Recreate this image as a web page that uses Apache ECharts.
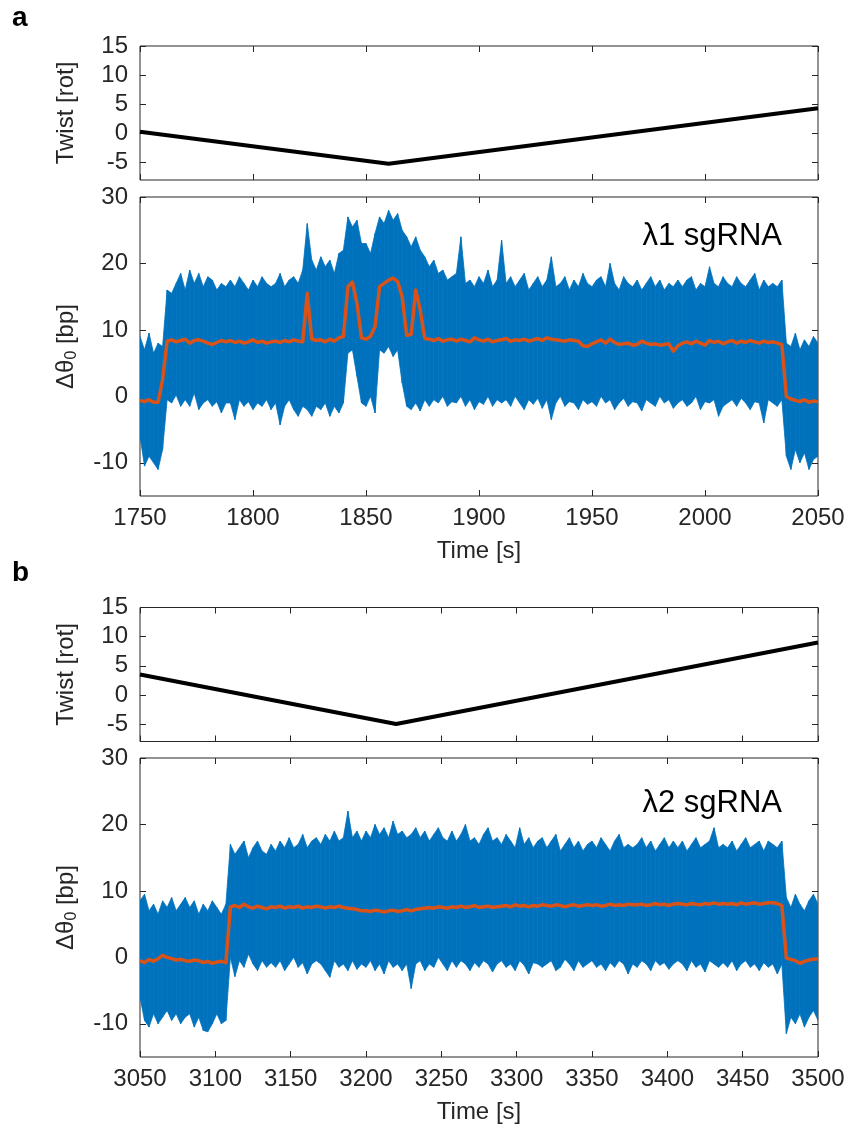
<!DOCTYPE html>
<html>
<head>
<meta charset="utf-8">
<script src="https://cdn.jsdelivr.net/npm/echarts@6/dist/echarts.min.js"></script>
<style>
  html, body { margin: 0; padding: 0; background: #fff; }
  #chart { width: 852px; height: 1132px; }
</style>
</head>
<body>
<div id="chart"></div>
<script>
// panel a : samples every 2 s from 1750 s
const startA = 1750, stepA = 2;
const upperA = [
  9.0, 7.0, 9.5, 6.5, 8.0, 7.5, 16.0, 15.5, 17.0, 18.5,
  16.0, 19.0, 17.0, 18.5, 16.5, 18.0, 17.5, 16.0, 17.0, 16.5,
  17.5, 16.5, 18.0, 17.0, 16.0, 17.5, 16.5, 18.0, 17.0, 16.5,
  17.0, 18.5, 16.5, 17.5, 18.0, 17.0, 19.0, 26.0, 20.5, 19.0,
  21.0, 19.5, 20.5, 18.5, 21.5, 22.0, 27.0, 25.5, 26.5, 23.0,
  23.0, 21.5, 24.5, 27.0, 26.0, 28.0, 26.5, 27.5, 25.0, 24.0,
  22.5, 24.0, 22.0, 21.0, 19.5, 20.5, 18.5, 19.0, 17.5, 18.0,
  18.5, 24.0, 17.0, 17.5, 16.5, 18.0, 17.0, 19.0, 16.5, 17.5,
  23.5, 17.0, 18.0, 16.5, 17.5, 18.5, 16.0, 17.0, 18.0, 16.5,
  17.5, 21.0, 16.5, 17.0, 18.0, 16.0, 17.5, 16.5, 18.5, 17.0,
  16.5, 17.5, 18.0, 16.5, 20.0, 17.0, 16.0, 18.0, 17.0, 16.5,
  17.5, 16.0, 17.0, 18.0, 16.5, 17.5, 16.0, 17.0, 16.5, 17.5,
  16.5, 17.5, 18.0, 16.0, 17.0, 16.5, 19.5, 17.0, 16.5, 18.0,
  17.0, 16.5, 18.0, 17.0, 16.5, 17.5, 18.5, 16.0, 17.5, 16.5,
  17.0, 16.5, 17.5, 8.0, 7.5, 9.5, 7.0, 8.5, 7.5, 9.0,
  8.0
];
const lowerA = [
  -6.0, -10.5, -9.0, -10.0, -11.0, -8.0, -0.5, -1.0, 0.2, -1.5,
  -0.5, -1.5, 0.5, -2.0, -1.0, -0.5, -1.5, -0.8, -2.5, -1.0,
  -1.0, -3.5, -0.5, -1.5, -0.8, -2.0, -1.0, -1.5, -0.5, -2.0,
  -1.0, -4.3, -1.5, -0.5, -2.0, -3.0, -1.5, -2.0, -3.0, -1.5,
  -2.0, -1.0, -3.0, -1.5, -2.5, -1.0, 6.5, 7.0, 3.0, -1.0,
  -1.5, 0.0, -2.5, 7.0, 6.5, 7.5, 6.0, 7.0, 2.0, -1.5,
  -2.0, -1.0, -2.2, -0.5, -1.5, -0.5, -1.0, 0.0, -1.5, -0.8,
  -1.0, 0.0, -1.5, -0.5, -2.0, -0.8, -1.2, 0.0, -1.5, -0.5,
  -1.0, -0.5, -1.5, 0.0, -1.0, -2.0, -0.5, -1.2, -0.3, -1.8,
  -0.5, -3.5, -1.0, 0.0, -1.5, -0.8, -1.0, -2.0, -0.5, -1.2,
  -0.8, -1.5, 0.0, -1.0, -0.5, -2.0, -1.0, -0.3, -1.5, -0.8,
  -1.0, -2.2, -0.5, -1.0, -1.5, 0.0, -1.0, -0.5, -1.8, -1.0,
  -0.5, -1.5, -1.0, 0.0, -2.0, -0.8, -1.0, -0.5, -3.0, -1.5,
  -1.0, -0.5, -1.5, -0.3, -1.0, -2.0, -0.8, -1.0, -4.0, -0.5,
  -1.0, -1.5, -0.5, -9.0, -11.0, -8.0, -10.0, -8.5, -11.0, -9.5,
  -9.0
];
const smoothA = [
  -0.6, -0.8, -0.5, -0.9, -0.9, 2.5, 8.3, 8.5, 8.2, 8.4,
  8.6, 8.0, 8.4, 8.5, 8.3, 8.0, 7.8, 8.1, 8.4, 8.2,
  8.4, 8.1, 8.3, 8.0, 8.2, 8.5, 8.1, 8.3, 8.0, 8.2,
  8.3, 8.1, 8.4, 8.2, 8.5, 8.3, 8.2, 15.5, 8.6, 8.4,
  8.5, 8.2, 8.6, 8.3, 8.8, 9.0, 16.5, 17.2, 14.0, 8.8,
  8.6, 9.0, 10.5, 16.5, 17.0, 17.5, 17.8, 17.3, 15.0, 9.2,
  9.3, 16.0, 13.0, 8.7, 8.6, 8.4, 8.7, 8.3, 8.5, 8.6,
  8.3, 8.6, 8.4, 8.2, 8.8, 8.5, 8.3, 8.6, 8.2, 8.4,
  8.5, 8.7, 8.3, 8.5, 8.4, 8.6, 8.3, 8.5, 8.7, 8.4,
  8.8, 8.6, 8.5, 8.4, 8.3, 8.5, 8.4, 8.3, 7.6, 7.5,
  7.9, 8.2, 8.5, 8.0, 8.6, 8.1, 7.8, 7.9, 8.0, 7.7,
  7.8, 8.3, 8.0, 7.8, 7.9, 7.7, 7.8, 7.9, 6.8, 7.6,
  8.0, 8.2, 7.9, 8.3, 8.0, 7.7, 8.4, 8.1, 8.3, 7.9,
  8.2, 8.4, 8.0, 8.3, 8.1, 8.4, 8.2, 8.0, 8.3, 8.1,
  8.2, 8.0, 7.8, 0.0, -0.4, -0.6, -0.8, -0.5, -0.9, -0.7,
  -0.8
];
const twistTimeA = [1750, 1860, 2050];
const twistA = [0.3, -5.2, 4.3];

// panel b : samples every 3 s from 3050 s
const startB = 3050, stepB = 3;
const upperB = [
  8.5, 9.5, 7.0, 8.0, 6.5, 8.5, 7.5, 9.0, 7.0, 8.0,
  9.0, 7.5, 8.5, 6.5, 8.0, 7.0, 8.5, 7.5, 6.5, 8.0,
  17.0, 15.5, 16.5, 17.5, 15.0, 16.5, 17.5, 16.0, 15.5, 17.0,
  16.0, 17.5, 16.5, 18.0, 16.5, 17.0, 18.5, 16.5, 17.5, 18.0,
  17.0, 18.5, 17.5, 19.0, 17.5, 18.0, 22.0, 18.0, 19.0, 17.5,
  19.0, 18.0, 20.0, 18.5, 19.5, 18.0, 20.5, 18.5, 19.0, 18.0,
  18.5, 19.5, 18.0, 19.0, 17.5, 18.5, 19.5, 18.0, 17.5, 19.0,
  17.5, 18.5, 20.0, 17.5, 18.0, 17.0, 18.5, 19.5, 17.5, 18.0,
  17.0, 18.5, 17.5, 16.5, 19.5, 17.0, 18.0, 16.5, 17.5, 18.0,
  16.5, 17.5, 18.5, 16.0, 17.0, 18.0, 16.5, 17.5, 16.0, 17.0,
  17.5, 16.5, 18.0, 17.0, 16.0, 17.5, 18.5, 16.5, 17.0, 16.5,
  17.0, 18.0, 16.5, 17.5, 16.0, 17.0, 18.0, 16.5, 17.5, 16.5,
  17.5, 16.0, 17.0, 18.0, 16.5, 17.0, 17.5, 19.5, 16.5, 17.0,
  16.5, 17.5, 16.0, 17.0, 18.0, 16.5, 17.0, 17.5, 16.0, 17.5,
  17.0, 16.5, 17.5,
  9.0, 7.5, 9.5, 8.0, 7.0, 8.5, 9.5, 8.0
];
const lowerB = [
  -6.0, -9.5, -10.5, -8.5, -10.0, -9.0, -8.0, -9.5, -8.5, -10.0,
  -9.0, -8.5, -10.5, -9.0, -11.0, -11.2, -10.0, -8.5, -10.0, -9.5,
  0.0, -2.9, -0.5, -1.5, 0.5, -1.0, -2.0, -0.5, -1.5, -0.8,
  -1.5, -0.5, -2.0, -1.0, 0.0, -1.5, -0.8, -2.5, -1.0, -0.5,
  -1.0, -2.0, -3.0, -0.5, -1.5, -1.0, -2.0, -0.5, -1.8, -1.0,
  -1.5, -0.5, -2.0, -1.0, -2.5, -0.5, -1.5, -1.0, -2.0, -1.0,
  -4.7, -1.0, -0.5, -2.0, -1.0, -1.5, 0.0, -1.0, -2.0, -0.5,
  -1.5, -0.5, -1.0, -2.0, -0.8, -1.5, -0.5, -1.0, -2.2, -1.0,
  -0.5, -1.5, -1.0, -2.0, -0.5, -1.2, -2.5, -0.8, -1.0, -1.5,
  -1.0, -0.5, -2.0, -1.5, -0.3, -1.0, -2.0, -0.5, -1.5, -1.0,
  -0.5, -1.5, -1.0, -2.0, -0.8, -1.5, -0.5, -1.0, -2.5, -1.0,
  -1.5, -0.5, -1.0, -2.0, -0.5, -1.2, -0.8, -1.8, -1.0, -0.5,
  -1.0, -2.0, -0.5, -1.5, -1.0, -2.2, -0.5, -1.0, -1.5, -0.8,
  -1.5, -0.5, -2.0, -1.0, -0.5, -1.5, -1.0, -2.0, -0.8, -1.5,
  -1.0, -2.5, -1.0,
  -11.5, -9.0, -10.0, -8.5, -10.5, -9.0, -8.0, -9.5
];
const smoothB = [
  -0.5, -0.8, -0.3, -0.6, -0.2, 0.3, 0.0, -0.2, -0.4, -0.3,
  -0.5, -0.6, -0.4, -0.5, -0.8, -0.6, -0.9, -0.7, -0.6, -0.8,
  7.6, 7.8, 7.5, 8.0, 7.6, 7.4, 7.7, 7.5, 7.3, 7.6,
  7.5, 7.7, 7.4, 7.6, 7.5, 7.7, 7.4, 7.6, 7.5, 7.7,
  7.6, 7.4, 7.6, 7.5, 7.7, 7.5, 7.4, 7.3, 7.2, 7.0,
  7.0, 6.9, 7.1, 7.0, 6.8, 7.0, 7.1, 6.9, 7.0, 7.2,
  7.0, 7.2, 7.3, 7.4, 7.5, 7.4, 7.6, 7.5, 7.4, 7.6,
  7.5, 7.7, 7.5, 7.6, 7.8, 7.5, 7.6, 7.7, 7.5, 7.6,
  7.7, 7.8, 7.6, 7.9, 7.7, 7.8, 7.6, 7.8, 7.7, 7.9,
  7.8, 7.7, 7.9, 7.8, 7.6, 7.8, 7.9, 7.7, 7.8, 7.9,
  7.8, 7.9, 7.7, 7.8, 8.0, 7.8, 7.9, 7.8, 8.0, 7.9,
  7.9, 8.0, 7.8, 7.9, 8.1, 7.9, 8.0, 7.8, 8.0, 8.1,
  8.0, 7.9, 8.1, 8.0, 7.9, 8.1, 8.0, 8.2, 8.0, 8.1,
  8.0, 8.1, 7.9, 8.2, 8.0, 8.1, 8.2, 8.0, 8.1, 8.2,
  8.2, 8.1, 7.8,
  -0.1, -0.3, -0.5, -0.9, -0.6, -0.4, -0.3, -0.2
];
const twistTimeB = [3050, 3220, 3500];
const twistB = [3.5, -5.0, 9.0];

const twistTicks = [-5, 0, 5, 10, 15];
const thetaTicks = [-10, 0, 10, 20, 30];
const rangeA = [1750, 2050];
const rangeB = [3050, 3500];

const BLUE = '#0072BD';
const ORANGE = '#D95319';
const AX = '#262626';
const FONT = 'Liberation Sans, Arial, Helvetica, sans-serif';

function sampled(start, step, vals) {
  return vals.map((v, i) => [start + i * step, v]);
}
// one item per pair of neighbouring samples: [t0, lo0, hi0, t1, lo1, hi1]
function bandItems(start, step, lo, hi) {
  const out = [];
  for (let i = 0; i < hi.length - 1; i++) {
    out.push([start + i * step, lo[i], hi[i], start + (i + 1) * step, lo[i + 1], hi[i + 1]]);
  }
  return out;
}
function pairs(ts, vs) {
  return ts.map((t, i) => [t, vs[i]]);
}

const grids = [
  { left: 140, right: 34, top: 46, height: 134 },
  { left: 140, right: 34, top: 197, height: 299 },
  { left: 140, right: 34, top: 607.5, height: 134 },
  { left: 140, right: 34, top: 758, height: 299 }
].map(g => Object.assign(g, { show: true, borderColor: AX, borderWidth: 1, backgroundColor: 'transparent' }));

const xRanges = [rangeA, rangeA, rangeB, rangeB];
const xAxis = [];
const yAxis = [];
grids.forEach((g, i) => {
  const withLabel = i % 2 === 1;
  const tick = { show: true, inside: true, length: 6, lineStyle: { color: AX, width: 1 } };
  const noLine = { show: false, onZero: false };
  xAxis.push({
    type: 'value', gridIndex: i, position: 'bottom',
    min: xRanges[i][0], max: xRanges[i][1], interval: 50,
    axisLine: noLine, axisTick: tick, splitLine: { show: false },
    axisLabel: { show: withLabel, color: AX, fontSize: 24, fontFamily: FONT, margin: 10, formatter: v => String(v) },
    name: withLabel ? 'Time [s]' : '', nameLocation: 'middle', nameGap: 43,
    nameTextStyle: { color: AX, fontSize: 24, fontFamily: FONT }
  });
  xAxis.push({
    type: 'value', gridIndex: i, position: 'top',
    min: xRanges[i][0], max: xRanges[i][1], interval: 50,
    axisLine: noLine, axisTick: tick, splitLine: { show: false },
    axisLabel: { show: false }
  });
  const isTwist = i % 2 === 0;
  const ticks = isTwist ? twistTicks : thetaTicks;
  const yMin = isTwist ? -8 : -15;
  const yMax = isTwist ? 15 : 30;
  yAxis.push({
    type: 'value', gridIndex: i, position: 'left', min: yMin, max: yMax,
    axisLine: noLine,
    axisTick: Object.assign({ customValues: ticks }, tick),
    axisLabel: { customValues: ticks, color: AX, fontSize: 24, fontFamily: FONT, margin: 12 },
    splitLine: { show: false },
    name: isTwist ? 'Twist [rot]' : '{t|Δθ}{s|0}{t| [bp]}',
    nameLocation: 'middle', nameGap: isTwist ? 62 : 60, nameRotate: 90,
    nameTextStyle: {
      color: AX, fontSize: 24, fontFamily: FONT,
      rich: {
        t: { color: AX, fontSize: 24, fontFamily: FONT },
        s: { color: AX, fontSize: 16, fontFamily: FONT, verticalAlign: 'bottom', padding: [12, 0, 0, 0] }
      }
    }
  });
  yAxis.push({
    type: 'value', gridIndex: i, position: 'right', min: yMin, max: yMax,
    axisLine: noLine,
    axisTick: Object.assign({ customValues: ticks }, tick),
    axisLabel: { show: false }, splitLine: { show: false }
  });
});

function bandSeries(axisIdx, start, step, lo, hi) {
  return {
    type: 'custom', xAxisIndex: axisIdx, yAxisIndex: axisIdx,
    data: bandItems(start, step, lo, hi),
    encode: { x: [0, 3], y: [1, 2, 4, 5] },
    clip: true, z: 2, silent: true,
    renderItem: function (params, api) {
      const a = api.coord([api.value(0), api.value(1)]);
      const b = api.coord([api.value(0), api.value(2)]);
      const c = api.coord([api.value(3), api.value(5)]);
      const d = api.coord([api.value(3), api.value(4)]);
      return {
        type: 'polygon',
        shape: { points: [a, b, c, d] },
        style: { fill: BLUE, stroke: BLUE, lineWidth: 0.8 }
      };
    }
  };
}
function smoothSeries(axisIdx, start, step, vals) {
  return {
    type: 'line', xAxisIndex: axisIdx, yAxisIndex: axisIdx,
    data: sampled(start, step, vals), showSymbol: false, symbol: 'none',
    lineStyle: { color: ORANGE, width: 3.5, join: 'round' }, z: 5
  };
}
function twistSeries(axisIdx, ts, vs) {
  return {
    type: 'line', xAxisIndex: axisIdx, yAxisIndex: axisIdx,
    data: pairs(ts, vs), showSymbol: false, symbol: 'none',
    lineStyle: { color: '#000', width: 4 }, z: 5
  };
}

const option = {
  animation: false,
  backgroundColor: '#fff',
  grid: grids,
  xAxis: xAxis,
  yAxis: yAxis,
  graphic: [
    { type: 'text', left: 12, top: 4, style: { text: 'a', font: 'bold 28px ' + FONT, fill: '#000' } },
    { type: 'text', left: 12, top: 559, style: { text: 'b', font: 'bold 28px ' + FONT, fill: '#000' } },
    { type: 'text', right: 70, top: 221, style: { text: 'λ1 sgRNA', font: '31px ' + FONT, fill: '#000' }, z: 10 },
    { type: 'text', right: 70, top: 788, style: { text: 'λ2 sgRNA', font: '31px ' + FONT, fill: '#000' }, z: 10 }
  ],
  series: [
    twistSeries(0, twistTimeA, twistA),
    bandSeries(2, startA, stepA, lowerA, upperA),
    smoothSeries(2, startA, stepA, smoothA),
    twistSeries(4, twistTimeB, twistB),
    bandSeries(6, startB, stepB, lowerB, upperB),
    smoothSeries(6, startB, stepB, smoothB)
  ]
};

const chart = echarts.init(document.getElementById('chart'), null, { renderer: 'canvas' });
chart.setOption(option);
</script>
</body>
</html>
